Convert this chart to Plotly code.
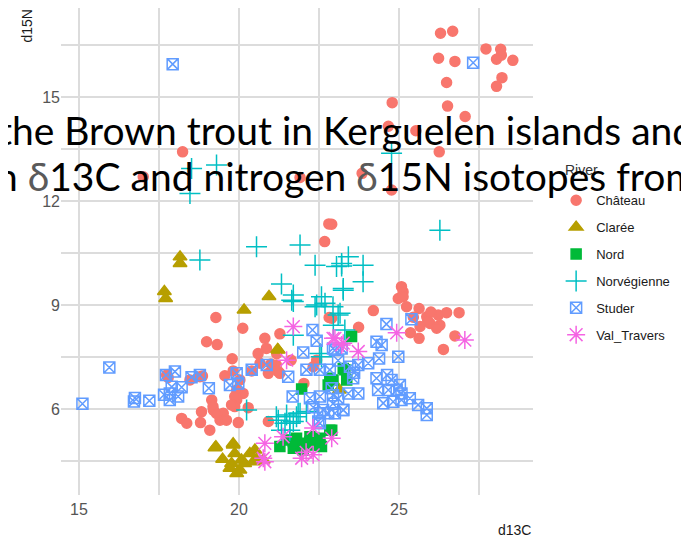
import plotly.graph_objects as go

# d13C / d15N values, one pair of lists per river
chateau_x = [26.30, 26.68, 27.72, 28.18, 28.20, 28.05, 28.56, 26.24, 26.75, 26.49, 28.22, 28.05, 26.52, 27.07,
             24.79, 26.26, 25.53, 24.67, 24.77, 23.85, 22.90, 18.24, 21.91, 22.81, 22.68, 17.01,
             25.08, 25.13, 24.98, 25.13, 25.24, 25.63, 25.87, 26.23, 26.49, 26.88, 25.97, 26.28, 25.66, 25.36,
             25.63, 26.39, 26.75, 24.20, 23.74, 22.90, 26.18, 25.90, 26.00, 25.45,
             19.28, 20.12, 18.99, 19.32, 19.79, 20.81, 21.28, 20.86, 21.18, 20.66, 20.92, 21.28, 21.63, 22.43,
             22.82, 22.32, 22.03, 20.92, 19.56, 19.82, 20.03, 20.13, 19.93, 19.87, 20.29, 19.98, 18.78, 18.47,
             17.74, 19.15, 18.83, 19.20, 19.51, 19.41, 19.09, 18.80, 18.21, 18.37, 19.61, 20.40, 19.19, 17.79,
             18.86, 21.23, 21.17, 19.93, 19.87, 19.77, 19.30, 20.60, 21.00]
chateau_y = [16.84, 16.90, 16.39, 16.38, 16.21, 16.09, 16.06, 16.12, 16.03, 15.42, 15.56, 15.31, 14.74, 14.44,
             14.84, 13.42, 14.03, 14.16, 12.32, 12.80, 11.33, 13.42, 12.68, 11.34, 10.83, 12.70,
             9.53, 9.38, 9.19, 9.24, 8.95, 8.90, 8.66, 8.71, 8.78, 8.78, 8.47, 8.42, 8.38, 8.20,
             8.04, 7.72, 8.11, 8.84, 8.36, 8.62, 8.33, 8.55, 8.80, 8.65,
             8.64, 8.33, 7.94, 7.86, 7.45, 8.04, 8.17, 7.75, 7.60, 7.32, 7.03, 7.03, 7.41, 7.41,
             8.64, 7.22, 6.74, 5.64, 6.96, 7.10, 6.84, 6.45, 6.26, 6.07, 6.04, 5.61, 6.93, 6.84,
             6.98, 6.26, 5.92, 5.97, 5.88, 5.68, 5.39, 5.61, 5.73, 5.59, 5.68, 7.10, 6.07, 6.91,
             6.95, 7.08, 7.27, 6.55, 6.36, 6.12, 5.87, 7.60, 7.30]

claree_x = [18.16, 18.16, 17.67, 17.71, 20.94, 20.16, 21.21, 21.23, 23.14,
            19.25, 19.49, 19.82, 19.87, 19.77, 20.03, 19.72, 20.34, 20.50, 20.55, 20.76, 20.08, 19.93,
            19.28, 19.82, 20.18, 20.45]
claree_y = [10.39, 10.20, 9.39, 9.19, 9.25, 8.86, 7.72, 7.70, 6.55,
            4.88, 4.55, 4.96, 4.72, 4.43, 4.24, 4.29, 4.72, 4.82, 4.53, 4.53, 4.53, 4.14,
            4.91, 5.00, 4.43, 4.48]

nord_x = [21.96, 22.79, 22.84, 21.28, 21.54, 21.80, 21.70, 21.96, 22.22, 22.32, 22.53, 22.58, 22.84,
          21.70, 22.01, 22.22, 22.53, 23.52, 23.26, 23.37, 22.94, 22.90, 23.31]
nord_y = [6.58, 6.69, 6.89, 4.92, 5.11, 5.16, 4.87, 5.01, 5.20, 4.96, 5.16, 4.92, 5.39,
          5.06, 4.82, 5.06, 4.96, 8.09, 7.17, 6.84, 6.84, 5.39, 7.13]

norv_x = [18.52, 19.30, 18.47, 20.55, 21.91, 18.78, 22.38, 23.21, 24.77, 26.28, 21.33, 21.70, 22.58, 23.05,
          23.42, 23.21, 23.88, 23.88, 23.26, 21.70, 22.38, 22.69, 22.95, 21.70, 23.10, 22.58, 20.24,
          21.23, 21.49, 21.59, 21.85, 22.11, 21.59, 21.65, 22.43, 21.17, 21.80, 21.44, 21.91, 21.33,
          21.70, 22.53, 23.16, 23.31, 22.94, 23.26]
norv_y = [12.94, 13.04, 12.22, 10.68, 10.73, 10.30, 10.15, 10.20, 13.38, 11.16, 9.61, 9.29, 9.24, 10.11,
          10.39, 10.13, 10.15, 9.67, 9.48, 9.10, 8.95, 9.05, 8.42, 8.13, 8.71, 7.51, 5.97,
          5.68, 5.83, 5.59, 5.88, 5.93, 5.39, 9.14, 9.00, 5.78, 5.78, 5.59, 5.88, 5.39,
          5.64, 7.60, 8.76, 8.28, 8.95, 9.43]

studer_x = [15.95, 15.11, 16.75, 16.72, 17.20, 17.72, 18.00, 17.66, 17.90, 17.84, 18.10, 18.21, 18.52, 18.78,
            19.06, 17.84, 17.93, 27.32,
            19.93, 19.98, 19.72, 20.40, 20.87, 21.54, 22.01, 22.30, 22.43, 22.11, 21.68, 22.22, 22.53, 22.53,
            22.84, 22.94, 22.53, 22.79, 23.26, 22.94, 22.53, 22.32, 22.63, 22.48, 23.00, 22.90, 23.10,
            24.61, 25.39, 24.30, 24.46, 24.98, 24.38, 24.04, 23.73, 23.47, 23.21, 23.57, 24.30, 24.63, 24.77,
            25.03, 24.35, 24.67, 24.93, 25.08, 23.73, 23.42, 24.51, 24.82, 25.08, 25.34, 25.60, 25.87, 25.87,
            23.26, 23.00, 22.94, 23.10, 23.60]
studer_y = [7.20, 6.15, 6.32, 6.22, 6.24, 6.98, 7.08, 6.41, 6.64, 6.26, 6.36, 6.63, 6.92, 6.98,
            6.60, 6.45, 15.95, 15.99,
            7.03, 6.74, 6.69, 7.13, 7.27, 6.93, 7.63, 8.28, 7.97, 7.13, 6.36, 6.31, 6.36, 7.13,
            7.13, 7.75, 5.88, 5.88, 5.97, 6.15, 5.59, 6.05, 5.97, 5.64, 7.70, 6.60, 6.30,
            8.45, 8.59, 7.94, 7.85, 7.51, 7.46, 7.32, 7.27, 7.22, 7.75, 6.89, 6.89, 6.98, 6.84,
            6.69, 6.55, 6.55, 6.55, 6.45, 6.45, 6.45, 6.17, 6.21, 6.26, 6.31, 6.12, 6.02, 5.83,
            5.97, 5.88, 6.40, 7.40, 7.05]

valtr_x = [21.70, 21.49, 22.94, 20.81, 20.81, 21.96, 22.32, 22.90, 21.38, 23.00, 22.32, 20.76,
           24.93, 27.06, 23.26, 23.73, 23.21, 22.10]
valtr_y = [8.38, 7.41, 8.04, 5.01, 4.48, 4.58, 4.68, 5.16, 5.20, 8.04, 5.45, 4.58,
           8.20, 7.99, 7.90, 7.66, 7.85, 4.75]

rivers = ["Château", "Clarée", "Nord", "Norvégienne", "Studer", "Val_Travers"]
colors = ["#F8766D", "#B79F00", "#00BA38", "#00BFC4", "#619CFF", "#F564E3"]
symbols = ["circle", "triangle-up", "square", "cross-thin-open", "square-x-open", "asterisk-open"]
sizes = [10, 12, 10, 15, 11, 15]
xs = [chateau_x, claree_x, nord_x, norv_x, studer_x, valtr_x]
ys = [chateau_y, claree_y, nord_y, norv_y, studer_y, valtr_y]

fig = go.Figure()
for i, name in enumerate(rivers):
    fig.add_trace(go.Scatter(
        x=xs[i], y=ys[i], mode="markers", name=name, legendgroup=name,
        marker=dict(symbol=symbols[i], color=colors[i], size=sizes[i],
                    line=dict(color=colors[i], width=1.5)),
    ))

# page body adds 8px, so margins are shifted by that much
grid = "#DCDCDC"
fig.update_layout(
    width=689, height=537,
    margin=dict(l=53, r=164, t=0, b=50),
    plot_bgcolor="white", paper_bgcolor="white",
    font=dict(family="Liberation Sans, Arial, sans-serif"),
    legend=dict(
        font=dict(size=13, color="#1a1a1a"),
        x=1.049, xanchor="left", y=0.636, yanchor="top",
        tracegroupgap=7, bgcolor="rgba(0,0,0,0)",
    ),
)
fig.update_xaxes(range=[14.44, 29.19], tickvals=[15, 20, 25], showgrid=True, gridcolor=grid, gridwidth=1.5,
                 zeroline=False, showline=False, ticks="", ticklabelstandoff=3,
                 tickfont=dict(size=16, color="#555555"),
                 minor=dict(tickvals=[17.5, 22.5, 27.5], showgrid=True, gridcolor=grid, gridwidth=1.5))
fig.update_yaxes(range=[3.52, 17.57], tickvals=[6, 9, 12, 15], showgrid=True, gridcolor=grid, gridwidth=1.5,
                 zeroline=False, showline=False, ticks="", tickfont=dict(size=16, color="#555555"),
                 minor=dict(tickvals=[4.5, 7.5, 10.5, 13.5, 16.5], showgrid=True, gridcolor=grid, gridwidth=1.5))

# legend title and axis titles
fig.add_annotation(text="River", xref="paper", yref="paper", x=1.064, y=0.667, xanchor="left", yanchor="middle",
                   showarrow=False, font=dict(size=14, color="#333333"))
fig.add_annotation(text="d13C", xref="paper", yref="paper", x=1, y=-0.0719, xanchor="right", yanchor="middle",
                   showarrow=False, font=dict(size=14, color="#1a1a1a"))
fig.add_annotation(text="d15N", xref="paper", yref="paper", x=-0.074, y=1, xanchor="center", yanchor="top",
                   textangle=-90, showarrow=False, font=dict(size=14, color="#1a1a1a"))

# oversized title that overflows the frame on both sides
delta = "<span style='color:#5a5a5a'>δ</span>"
fig.add_annotation(text="the Brown trout in Kerguelen islands and", xref="paper", yref="paper",
                   x=-0.1377, y=0.7495, xanchor="left", yanchor="middle", showarrow=False,
                   font=dict(family="Lato, sans-serif", size=39, color="black"))
fig.add_annotation(text=f"n {delta}13C and nitrogen {delta}15N isotopes from", xref="paper", yref="paper",
                   x=-0.1419, y=0.656, xanchor="left", yanchor="middle", showarrow=False,
                   font=dict(family="Lato, sans-serif", size=39, color="black"))

fig.write_html("out.html")
